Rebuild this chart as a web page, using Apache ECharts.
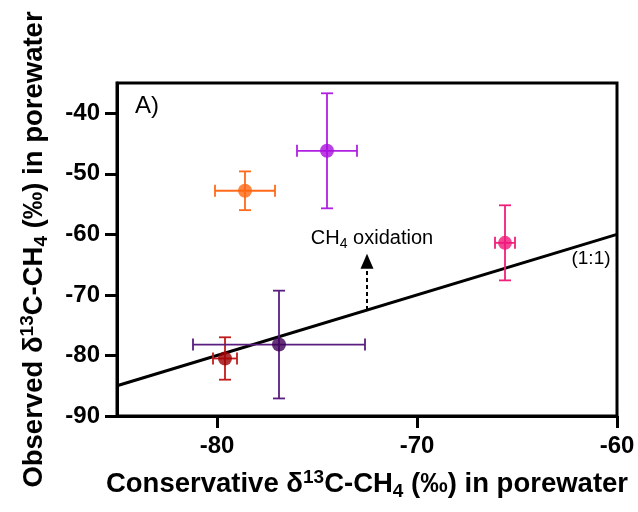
<!DOCTYPE html>
<html>
<head>
<meta charset="utf-8">
<script src="https://cdn.jsdelivr.net/npm/echarts@6/dist/echarts.min.js"></script>
<style>
  html, body { margin: 0; padding: 0; background: #fff; }
  #chart { width: 638px; height: 512px; }
</style>
</head>
<body>
<div id="chart"></div>
<script>
// Conservative vs observed δ13C-CH4 in porewater (‰), mean ± error
const conservative   = [-78.6, -74.5, -65.6, -79.6, -76.9];
const observed       = [-52.8, -46.2, -61.4, -80.5, -78.2];
const conservativeSd = [1.5, 1.5, 0.5, 0.6, 4.3];
const observedSd     = [3.2, 9.5, 6.2, 3.5, 8.9];
const markerColors   = ['#FF6612', '#AA0FDD', '#F0187A', '#9E0000', '#3F0058'];
const barColors      = ['#FF6A1A', '#B020E0', '#F0207A', '#C01C1C', '#5A1E80'];

// 1:1 reference line end points
const oneToOne = [[-85, -85], [-60, -60]];
// oxidation arrow: starts on the 1:1 line and points upward
const arrowX = -72.5, arrowFrom = -72.5, arrowTo = -63.2;

const xTicks = [-80, -70, -60];
const yTicks = [-90, -80, -70, -60, -50, -40];

const FONT = '"Liberation Sans", Arial, sans-serif';

const chart = echarts.init(document.getElementById('chart'), null, { renderer: 'canvas' });

const points = conservative.map((x, i) => [x, observed[i], conservativeSd[i], observedSd[i], i]);

const titleRich = {
  b:   { fontSize: 27.5, fontWeight: 'bold', fontFamily: FONT, color: '#000', lineHeight: 33, verticalAlign: 'middle' },
  sup: { fontSize: 19, fontWeight: 'bold', fontFamily: FONT, color: '#000', lineHeight: 33, verticalAlign: 'top' },
  sub: { fontSize: 19, fontWeight: 'bold', fontFamily: FONT, color: '#000', lineHeight: 33, verticalAlign: 'bottom' }
};

chart.setOption({
  animation: false,
  backgroundColor: '#fff',
  grid: {
    left: 117, top: 83, right: 21, bottom: 96,
    show: true, borderColor: '#000', borderWidth: 3
  },
  xAxis: {
    type: 'value', min: -85, max: -60, interval: 5,
    name: '{b|Conservative δ}{sup|13}{b|C-CH}{sub|4}{b| (‰) in porewater}',
    nameLocation: 'middle', nameGap: 52,
    nameTextStyle: { rich: titleRich },
    axisLine: { show: true, onZero: false, lineStyle: { color: '#000', width: 3 } },
    axisTick: { show: true, length: 12, lineStyle: { color: '#000', width: 3 },
      customValues: xTicks },
    axisLabel: { fontSize: 24, fontWeight: 'bold', fontFamily: FONT, color: '#000', margin: 18,
      customValues: xTicks },
    splitLine: { show: false }
  },
  yAxis: {
    type: 'value', min: -90, max: -35, interval: 5,
    name: '{b|Observed δ}{sup|13}{b|C-CH}{sub|4}{b| (‰) in porewater}',
    nameLocation: 'middle', nameGap: 66, nameRotate: 90,
    nameTextStyle: { rich: titleRich },
    axisLine: { show: true, onZero: false, lineStyle: { color: '#000', width: 3 } },
    axisTick: { show: true, length: 12, lineStyle: { color: '#000', width: 3 },
      customValues: yTicks },
    axisLabel: { fontSize: 24, fontWeight: 'bold', fontFamily: FONT, color: '#000', margin: 17,
      customValues: yTicks },
    splitLine: { show: false }
  },
  series: [
    {
      type: 'line',
      data: oneToOne,
      symbol: 'none',
      lineStyle: { color: '#000', width: 3 },
      z: 2,
      silent: true
    },
    {
      // dashed arrow for CH4 oxidation
      type: 'custom',
      data: [[arrowX, arrowFrom, arrowTo]],
      z: 3,
      renderItem: function (params, api) {
        const p0 = api.coord([api.value(0), api.value(1)]);
        const p1 = api.coord([api.value(0), api.value(2)]);
        const headLen = 15, headHalf = 6.5;
        return {
          type: 'group',
          children: [
            { type: 'line', shape: { x1: p0[0], y1: p0[1], x2: p1[0], y2: p1[1] + headLen },
              style: { stroke: '#000', lineWidth: 2, lineDash: [4, 3] } },
            { type: 'polygon', shape: { points: [[p1[0], p1[1]], [p1[0] - headHalf, p1[1] + headLen], [p1[0] + headHalf, p1[1] + headLen]] },
              style: { fill: '#000' } }
          ]
        };
      }
    },
    {
      // error bars in both directions
      type: 'custom',
      data: points,
      z: 4,
      renderItem: function (params, api) {
        const x = api.value(0), y = api.value(1), ex = api.value(2), ey = api.value(3);
        const i = api.value(4);
        const c = barColors[i];
        const l = api.coord([x - ex, y]), r = api.coord([x + ex, y]);
        const t = api.coord([x, y + ey]), b = api.coord([x, y - ey]);
        const cap = 6;
        const st = { stroke: c, lineWidth: 1.8 };
        return {
          type: 'group',
          children: [
            { type: 'line', shape: { x1: l[0], y1: l[1], x2: r[0], y2: r[1] }, style: st },
            { type: 'line', shape: { x1: l[0], y1: l[1] - cap, x2: l[0], y2: l[1] + cap }, style: st },
            { type: 'line', shape: { x1: r[0], y1: r[1] - cap, x2: r[0], y2: r[1] + cap }, style: st },
            { type: 'line', shape: { x1: t[0], y1: t[1], x2: b[0], y2: b[1] }, style: st },
            { type: 'line', shape: { x1: t[0] - cap, y1: t[1], x2: t[0] + cap, y2: t[1] }, style: st },
            { type: 'line', shape: { x1: b[0] - cap, y1: b[1], x2: b[0] + cap, y2: b[1] }, style: st }
          ]
        };
      }
    },
    {
      type: 'scatter',
      data: points.map(p => ({ value: [p[0], p[1]], itemStyle: { color: markerColors[p[4]] } })),
      symbol: 'circle',
      symbolSize: 14,
      z: 5
    },
    {
      // text annotations placed in data space
      type: 'custom',
      z: 6,
      data: [
        [-72.25, -60.7, 'ch4'],
        [-61.3, -64.1, '(1:1)'],
        [-83.5, -38.9, 'A)']
      ],
      renderItem: function (params, api) {
        const p = api.coord([api.value(0), api.value(1)]);
        const key = api.value(2);
        const rich = {
          n: { fontSize: 20, fontFamily: FONT, color: '#000', lineHeight: 26, verticalAlign: 'middle' },
          s: { fontSize: 14, fontFamily: FONT, color: '#000', lineHeight: 26, verticalAlign: 'bottom' }
        };
        let text, size = 20;
        if (key === 'ch4') text = '{n|CH}{s|4}{n| oxidation}';
        else if (key === '(1:1)') { text = '(1:1)'; size = 19; }
        else { text = 'A)'; size = 24; }
        return {
          type: 'text',
          x: p[0], y: p[1],
          style: {
            text: text, rich: rich,
            fontSize: size, fontFamily: FONT, fill: '#000',
            align: 'center', verticalAlign: 'middle'
          }
        };
      }
    }
  ]
});
</script>
</body>
</html>
